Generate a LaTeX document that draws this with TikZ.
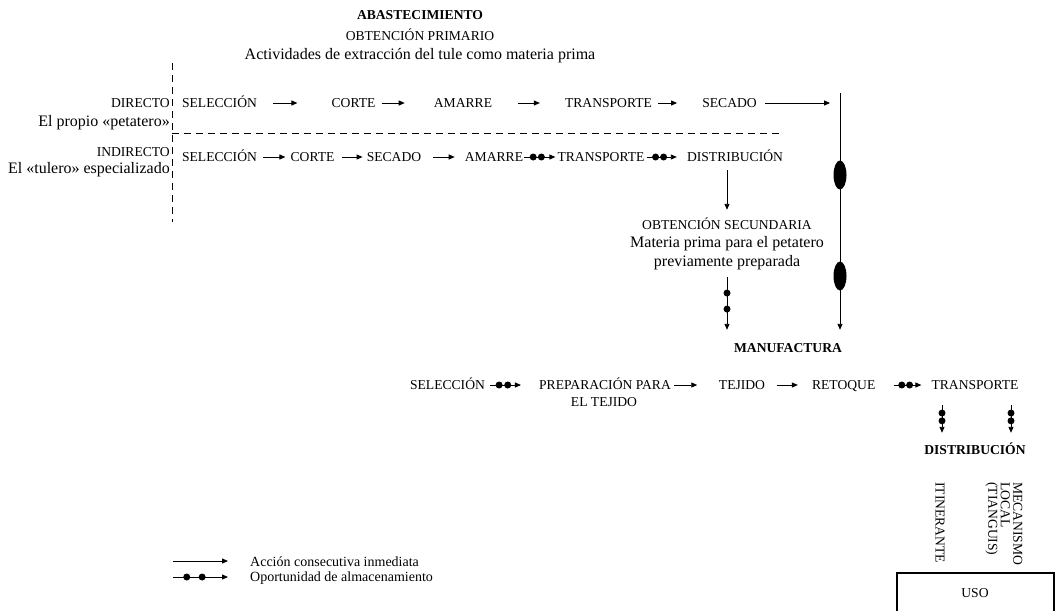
\documentclass[tikz,border=0pt]{standalone}
\usepackage{fontspec}
\setmainfont{Liberation Serif}
\usetikzlibrary{arrows.meta,shapes.geometric}

\begin{document}
\begin{tikzpicture} [x=1pt, y=-1pt]
    \tikzstyle{every node} = [inner sep=0pt, align=center]
    \tikzstyle{caps} = [font=\fontsize{13.6}{16}\selectfont, text height=9pt, text depth=0pt]
    \tikzstyle{head} = [caps, font=\fontsize{13.6}{16}\selectfont\bfseries]
    \tikzstyle{txt} = [font=\fontsize{16}{19}\selectfont, text height=11pt, text depth=3.5pt]
    \tikzstyle{act} = [line width=0.9pt, -{Triangle[length=6pt,width=5pt]}]
    \tikzstyle{dot} = [circle, fill=black, minimum size=7pt]
    \tikzstyle{silo} = [ellipse, fill=black, minimum width=13pt, minimum height=29pt]
    \tikzstyle{divide} = [line width=0.9pt, dash pattern=on 7pt off 5pt]
    \useasboundingbox (0,0) rectangle (1056,611);

    % abastecimiento
    \node[head] (abas) at (420,15) {ABASTECIMIENTO};
    \node[caps] (prim) at (420,36) {OBTENCIÓN PRIMARIO};
    \node[txt] (acti) at (420,56) {Actividades de extracción del tule como materia prima};
    \draw[divide] (172,63) -- (172,222);
    \draw[divide] (172,133) -- (780,133);
    \node[caps, anchor=east] (dir) at (170,103) {DIRECTO};
    \node[txt, anchor=east] (dirb) at (170,123) {El propio «petatero»};
    \node[caps, anchor=east] (ind) at (170,152) {INDIRECTO};
    \node[txt, anchor=east] (indb) at (170,170) {El «tulero» especializado};

    % directo
    \node[caps] (d1) at (219.5,103) {SELECCIÓN};
    \node[caps] (d2) at (353.5,103) {CORTE};
    \node[caps] (d3) at (463,103) {AMARRE};
    \node[caps] (d4) at (608.5,103) {TRANSPORTE};
    \node[caps] (d5) at (729.5,103) {SECADO};
    \draw[act, shorten <=16pt, shorten >=34pt] (d1) -- (d2);
    \draw[act, shorten <=6pt, shorten >=29pt] (d2) -- (d3);
    \draw[act, shorten <=26pt, shorten >=25pt] (d3) -- (d4);
    \draw[act, shorten <=6pt, shorten >=25pt] (d4) -- (d5);

    % indirecto
    \node[caps] (i1) at (219.5,157) {SELECCIÓN};
    \node[caps] (i2) at (312.5,157) {CORTE};
    \node[caps] (i3) at (394,157) {SECADO};
    \node[caps] (i4) at (494,157) {AMARRE};
    \node[caps] (i5) at (601,157) {TRANSPORTE};
    \node[caps] (i6) at (735,157) {DISTRIBUCIÓN};
    \draw[act, shorten <=6pt, shorten >=5pt] (i1) -- (i2);
    \draw[act, shorten <=7pt, shorten >=4pt] (i2) -- (i3);
    \draw[act, shorten <=12pt, shorten >=10pt] (i3) -- (i4);
    \draw[act, shorten <=1pt, shorten >=2pt] (i4) -- (i5) node[dot, pos=.29]{} node[dot, pos=.53]{};
    \draw[act, shorten <=2pt, shorten >=10pt] (i5) -- (i6) node[dot, pos=.26]{} node[dot, pos=.45]{};

    % obtencion secundaria
    \node[caps] (os1) at (727,225) {OBTENCIÓN SECUNDARIA};
    \node[txt] (os2) at (727,244) {Materia prima para el petatero};
    \node[txt] (os3) at (727,263) {previamente preparada};
    \draw[act, shorten <=8.5pt, shorten >=10.5pt] (i6.south -| os1.north) -- (os1.north);

    % manufactura
    \node[head] (manu) at (788,348) {MANUFACTURA};
    \coordinate (vtop) at (840,93);
    \draw[act, shorten <=8pt, shorten >=10pt] (d5) -- (d5 -| vtop);
    \draw[act, shorten >=13.5pt] (vtop) -- (vtop |- manu.north);
    \node[silo] (st1) at (840,175) {};
    \node[silo] (st2) at (840,276) {};
    \draw[act, shorten <=7pt, shorten >=13.5pt] (os3.south) -- (os3.south |- manu.north) node[dot, pos=.31]{} node[dot, pos=.53]{};

    \node[caps] (m1) at (447.5,385) {SELECCIÓN};
    \node[caps] (m2) at (605,385) {PREPARACIÓN PARA};
    \node[caps] (m2b) at (604,402) {EL TEJIDO};
    \node[caps] (m3) at (742,385) {TEJIDO};
    \node[caps] (m4) at (843.7,385) {RETOQUE};
    \node[caps] (m5) at (975,385) {TRANSPORTE};
    \draw[act, shorten <=5pt, shorten >=18pt] (m1) -- (m2) node[dot, pos=.26]{} node[dot, pos=.42]{};
    \draw[act, shorten <=3pt, shorten >=21.5pt] (m2) -- (m3);
    \draw[act, shorten <=11.5pt, shorten >=14pt] (m3) -- (m4);
    \draw[act, shorten <=18pt, shorten >=10pt] (m4) -- (m5) node[dot, pos=.47]{} node[dot, pos=.61]{};

    % distribucion
    \node[head] (dist) at (975,450) {DISTRIBUCIÓN};
    \coordinate (t1) at (942,0);
    \coordinate (t2) at (1011,0);
    \draw[act, shorten <=15.5pt, shorten >=12.5pt] (m5.south -| t1) -- (dist.north -| t1) node[dot, pos=.42]{} node[dot, pos=.56]{};
    \draw[act, shorten <=15.5pt, shorten >=12.5pt] (m5.south -| t2) -- (dist.north -| t2) node[dot, pos=.42]{} node[dot, pos=.56]{};
    \node[caps, rotate=-90, anchor=west] (itin) at (940,482) {ITINERANTE};
    \node[font=\fontsize{13.6}{12.5}\selectfont, align=left, rotate=-90, anchor=west] (meca) at (1004,482) {MECANISMO\\LOCAL\\(TIANGUIS)};
    \node[caps] (uso) at (975,593) {USO};
    \draw[line width=1.8pt] ([shift={(-78,18)}]uso.center) |- ([shift={(79,-20)}]uso.center) -- ([shift={(79,18)}]uso.center);

    % leyenda
    \coordinate (la) at (173,561);
    \coordinate (lb) at (228,561);
    \coordinate (lc) at (173,577);
    \coordinate (ld) at (228,577);
    \draw[act] (la) -- (lb);
    \draw[act] (lc) -- (ld) node[dot, pos=.25]{} node[dot, pos=.53]{};
    \node[font=\fontsize{14}{15}\selectfont, align=left, anchor=west] (leg) at (250,571) {Acción consecutiva inmediata\\Oportunidad de almacenamiento};
\end{tikzpicture}
\end{document}
